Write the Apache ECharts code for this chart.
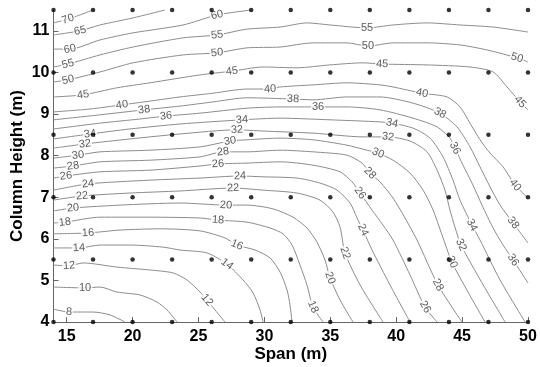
<!DOCTYPE html>
<html>
<head>
<meta charset="utf-8">
<script src="https://cdn.jsdelivr.net/npm/echarts@6/dist/echarts.min.js"></script>
<style>
  html, body { margin: 0; padding: 0; background: #fff; }
  #main { width: 540px; height: 367px; }
</style>
</head>
<body>
<div id="main"></div>
<script>
// sample grid (black dots)
const spanPts = [14, 17, 20, 23, 26, 29, 32, 35, 38, 41, 44, 47, 50];
const heightPts = [4, 5.5, 7, 8.5, 10, 11.5];

const xTicks = [15, 20, 25, 30, 35, 40, 45, 50];
const yTicks = [4, 5, 6, 7, 8, 9, 10, 11];

// contour levels and the traced contour lines [span, height]
const levels = [70, 65, 60, 55, 50, 45, 40, 38, 36, 34, 32, 30, 28, 26, 24, 22, 20, 18, 16, 14, 12, 10, 8];

const c70 = [[14, 11.19], [15.1, 11.28], [17, 11.5]];
const c65 = [[14, 10.9], [16.01, 11.0], [17.53, 11.14], [20.03, 11.31], [22.46, 11.5]];
const c60 = [[14, 10.56], [15.25, 10.56], [17.53, 10.78], [20.03, 10.95], [23.83, 11.14], [26.41, 11.38], [28.98, 11.5]];
const c55 = [[14, 10.13], [15.1, 10.2], [17.53, 10.42], [20.03, 10.61], [23.83, 10.83], [26.41, 10.9], [28.68, 11.04], [31.19, 11.09], [33.23, 11.19], [34.98, 11.14], [37.79, 11.07], [39.76, 11.14], [42.34, 11.19], [44.84, 11.14], [47.35, 11.09], [50, 10.97]];
const c50 = [[14, 9.77], [15.1, 9.82], [17.53, 10.01], [20.03, 10.23], [23.83, 10.42], [26.41, 10.47], [28.68, 10.59], [31.19, 10.61], [33.69, 10.71], [36.27, 10.71], [37.86, 10.63], [39.76, 10.71], [42.34, 10.71], [44.84, 10.66], [46.89, 10.54], [49.17, 10.35], [50, 10.25]];
const c45 = [[14, 9.41], [16.24, 9.46], [18.82, 9.63], [21.32, 9.75], [25.12, 9.94], [27.54, 10.03], [29.9, 10.13], [32.47, 10.11], [34.98, 10.18], [37.48, 10.23], [38.93, 10.2], [42.34, 10.18], [45.6, 10.13], [47.35, 10.01], [48.41, 9.65], [49.4, 9.29], [50, 9.1]];
const c40 = [[14, 9.05], [16.77, 9.12], [19.2, 9.22], [21.32, 9.31], [23.6, 9.41], [26.1, 9.5], [28.68, 9.6], [30.43, 9.6], [31.19, 9.65], [33.69, 9.7], [36.27, 9.75], [38.77, 9.7], [39.76, 9.65], [41.96, 9.5], [43.86, 9.41], [44.84, 9.17], [45.6, 8.78], [46.36, 8.38], [47.12, 8.06], [48.11, 7.73], [49.02, 7.29], [50, 6.98]];
const c38 = [[14, 8.86], [17.53, 8.98], [20.87, 9.1], [23.6, 9.19], [26.1, 9.29], [28.68, 9.39], [32.17, 9.36], [33.69, 9.34], [36.27, 9.41], [38.77, 9.41], [41.28, 9.26], [43.32, 9.02], [44.61, 8.69], [45.6, 8.21], [46.36, 7.73], [47.12, 7.25], [47.88, 6.81], [48.87, 6.38], [50, 5.9]];
const c36 = [[14, 8.64], [17.53, 8.78], [20.56, 8.88], [22.54, 8.95], [25.12, 9.02], [28.68, 9.14], [31.19, 9.17], [34.07, 9.17], [36.27, 9.17], [38.77, 9.1], [41.28, 8.9], [43.1, 8.69], [44.08, 8.42], [44.46, 8.18], [45.07, 7.77], [45.75, 7.34], [46.51, 6.81], [47.35, 6.26], [48.11, 5.85], [48.87, 5.49], [50, 4.94]];
const c34 = [[14, 8.4], [16.77, 8.52], [19.8, 8.64], [23.6, 8.76], [28.3, 8.86], [31.19, 8.9], [34.98, 8.86], [38.77, 8.81], [39.68, 8.78], [41.28, 8.66], [42.57, 8.42], [43.55, 7.97], [44.31, 7.41], [44.84, 6.93], [45.75, 6.33], [46.36, 5.97], [47.88, 5.01], [49.78, 4.0]];
const c32 = [[14, 8.18], [16.39, 8.28], [19.8, 8.4], [23.6, 8.52], [27.92, 8.62], [29.9, 8.59], [33.69, 8.54], [37.48, 8.45], [39.38, 8.45], [41.05, 8.35], [42.34, 8.09], [43.1, 7.65], [43.7, 7.17], [44.08, 6.69], [44.46, 6.28], [44.92, 5.85], [46.51, 4.94], [48.26, 4.0]];
const c30 = [[14, 7.94], [15.86, 8.01], [17.53, 8.09], [21.32, 8.13], [25.12, 8.21], [27.39, 8.35], [28.68, 8.38], [31.19, 8.42], [33.69, 8.38], [36.27, 8.25], [37.79, 8.13], [38.62, 8.06], [39.76, 7.89], [41.05, 7.58], [42.04, 7.17], [42.8, 6.69], [43.48, 6.09], [44.23, 5.44], [45.45, 4.72], [46.74, 4.0]];
const c28 = [[14, 7.7], [15.48, 7.75], [17.53, 7.85], [21.32, 7.89], [25.12, 7.97], [26.86, 8.09], [28.68, 8.09], [31.19, 8.13], [33.69, 8.09], [36.27, 8.01], [37.41, 7.82], [38.01, 7.58], [38.77, 7.37], [39.76, 6.98], [40.67, 6.5], [41.58, 5.97], [43.17, 4.89], [44.99, 4.0]];
const c26 = [[14, 7.46], [14.95, 7.51], [17.53, 7.61], [21.32, 7.65], [25.12, 7.75], [26.48, 7.8], [28.68, 7.82], [31.19, 7.85], [33.69, 7.77], [35.74, 7.61], [36.65, 7.37], [37.26, 7.1], [38.17, 6.69], [39.0, 6.33], [39.76, 5.97], [41.05, 5.13], [42.19, 4.36], [43.1, 4.0]];
const c24 = [[14, 7.17], [16.62, 7.32], [21.32, 7.41], [25.12, 7.46], [28.15, 7.51], [29.9, 7.49], [32.47, 7.46], [34.22, 7.34], [35.51, 7.17], [36.5, 6.86], [37.03, 6.5], [37.48, 6.21], [38.17, 5.73], [39.53, 4.89], [41.05, 4.0]];
const c22 = [[14, 6.93], [16.16, 7.03], [19.8, 7.1], [23.6, 7.15], [27.62, 7.22], [29.9, 7.17], [32.47, 7.1], [34.22, 6.93], [35.21, 6.64], [35.74, 6.28], [36.12, 5.66], [37.26, 4.89], [39.0, 4.0]];
const c20 = [[14, 6.67], [15.48, 6.74], [19.05, 6.81], [23.6, 6.86], [27.09, 6.81], [28.68, 6.81], [30.65, 6.72], [32.17, 6.52], [33.23, 6.26], [33.99, 5.92], [34.6, 5.49], [34.98, 5.06], [35.74, 4.53], [36.72, 4.0]];
const c18 = [[14, 6.38], [14.87, 6.4], [17.53, 6.52], [21.32, 6.52], [25.12, 6.5], [26.48, 6.45], [28.68, 6.4], [30.43, 6.26], [31.41, 6.12], [32.1, 5.85], [32.7, 5.37], [33.23, 4.89], [33.69, 4.36], [34.45, 4.0]];
const c16 = [[14, 6.12], [16.62, 6.14], [19.05, 6.21], [22.08, 6.24], [25.12, 6.19], [27.01, 6.02], [27.92, 5.85], [29.29, 5.73], [30.43, 5.54], [31.19, 5.2], [31.72, 4.77], [31.94, 4.41], [32.1, 4.0]];
const c14 = [[14, 5.78], [15.93, 5.78], [17.53, 5.85], [19.8, 5.85], [22.31, 5.8], [23.6, 5.73], [25.65, 5.66], [27.16, 5.39], [28.38, 5.01], [29.14, 4.7], [29.67, 4.29], [29.9, 4.0]];
const c12 = [[14, 5.37], [15.18, 5.35], [16.24, 5.42], [18.82, 5.32], [21.32, 5.25], [23.07, 5.18], [24.13, 5.01], [25.12, 4.72], [25.65, 4.53], [26.25, 4.29], [27.01, 4.0]];
const c10 = [[14, 4.84], [16.39, 4.82], [17.53, 4.84], [18.82, 4.72], [20.56, 4.65], [21.85, 4.48], [22.61, 4.29], [23.37, 4.0]];
const c8 = [[14, 4.31], [15.18, 4.24], [17, 4.24], [18.29, 4.17], [19.42, 4.0]];

const contours = [c70, c65, c60, c55, c50, c45, c40, c38, c36, c34, c32, c30, c28, c26, c24, c22, c20, c18, c16, c14, c12, c10, c8];

// which vertex of each contour carries a value label
const labelAt = [[1], [1], [1, 5], [1, 5, 10], [1, 5, 10, 15], [1, 5, 10, 15], [2, 7, 13, 20], [2, 6, 11, 17], [3, 7, 13, 19],
  [1, 4, 8, 14], [1, 4, 8, 15], [1, 5, 11, 17], [1, 5, 11, 16], [1, 5, 11, 16], [1, 4, 11], [1, 4, 10], [1, 4, 11], [1, 5, 12],
  [1, 6], [1, 7], [1, 8], [1], [1]];

const boldFont = "Liberation Sans, Arial, sans-serif";

const dots = [];
heightPts.forEach(h => spanPts.forEach(s => dots.push([s, h])));

const chart = echarts.init(document.getElementById("main"));

const option = {
  animation: false,
  backgroundColor: "#fff",
  grid: { left: 53.5, right: 12, top: 10, bottom: 45, containLabel: false, outerBoundsMode: "none" },
  xAxis: {
    type: "value",
    min: 14,
    max: 50,
    name: "Span (m)",
    nameLocation: "middle",
    nameGap: 24,
    nameMoveOverlap: false,
    nameTextStyle: { fontFamily: boldFont, fontWeight: "bold", fontSize: 17, color: "#000" },
    axisLine: { show: true, lineStyle: { color: "#666", width: 1 } },
    axisTick: { show: true, inside: true, length: 5, customValues: xTicks, lineStyle: { color: "#666" } },
    axisLabel: { customValues: xTicks, fontFamily: boldFont, fontWeight: "bold", fontSize: 16, color: "#000", margin: 7 },
    splitLine: { show: false },
  },
  yAxis: {
    type: "value",
    min: 4,
    max: 11.5,
    name: "Column Height (m)",
    nameLocation: "middle",
    nameGap: 28,
    nameMoveOverlap: false,
    nameTextStyle: { fontFamily: boldFont, fontWeight: "bold", fontSize: 17, color: "#000" },
    axisLine: { show: true, lineStyle: { color: "#666", width: 1 } },
    axisTick: { show: true, inside: true, length: 5, customValues: yTicks, lineStyle: { color: "#666" } },
    axisLabel: { customValues: yTicks, fontFamily: boldFont, fontWeight: "bold", fontSize: 16, color: "#000", margin: 4 },
    splitLine: { show: false },
  },
  series: [
    ...contours.map((pts, i) => ({
      type: "line",
      name: String(levels[i]),
      data: pts,
      showSymbol: false,
      smooth: 0.25,
      silent: true,
      lineStyle: { color: "#8c8c8c", width: 1 },
      z: 2,
    })),
    {
      type: "scatter",
      id: "dots",
      data: dots,
      symbolSize: 4.5,
      itemStyle: { color: "#000" },
      clip: false,
      silent: true,
      z: 10,
    },
  ],
};

chart.setOption(option);

// contour value labels, turned along the local direction of each line
const labelData = [];
contours.forEach((pts, i) => {
  labelAt[i].forEach(k => {
    const a = chart.convertToPixel({ gridIndex: 0 }, pts[Math.max(k - 1, 0)]);
    const b = chart.convertToPixel({ gridIndex: 0 }, pts[Math.min(k + 1, pts.length - 1)]);
    let deg = -Math.atan2(b[1] - a[1], b[0] - a[0]) * 180 / Math.PI;
    if (deg > 90) deg -= 180;
    if (deg < -90) deg += 180;
    labelData.push({ value: pts[k], name: String(levels[i]), label: { rotate: deg } });
  });
});

chart.setOption({
  series: [{
    type: "scatter",
    id: "labels",
    data: labelData,
    symbolSize: 1,
    itemStyle: { color: "rgba(0,0,0,0)" },
    clip: false,
    silent: true,
    z: 5,
    label: {
      show: true,
      position: "inside",
      formatter: p => p.name,
      fontFamily: "Liberation Sans, Arial, sans-serif",
      fontSize: 11,
      color: "#333",
      backgroundColor: "#fff",
      padding: [0, 1],
    },
  }],
});
</script>
</body>
</html>
